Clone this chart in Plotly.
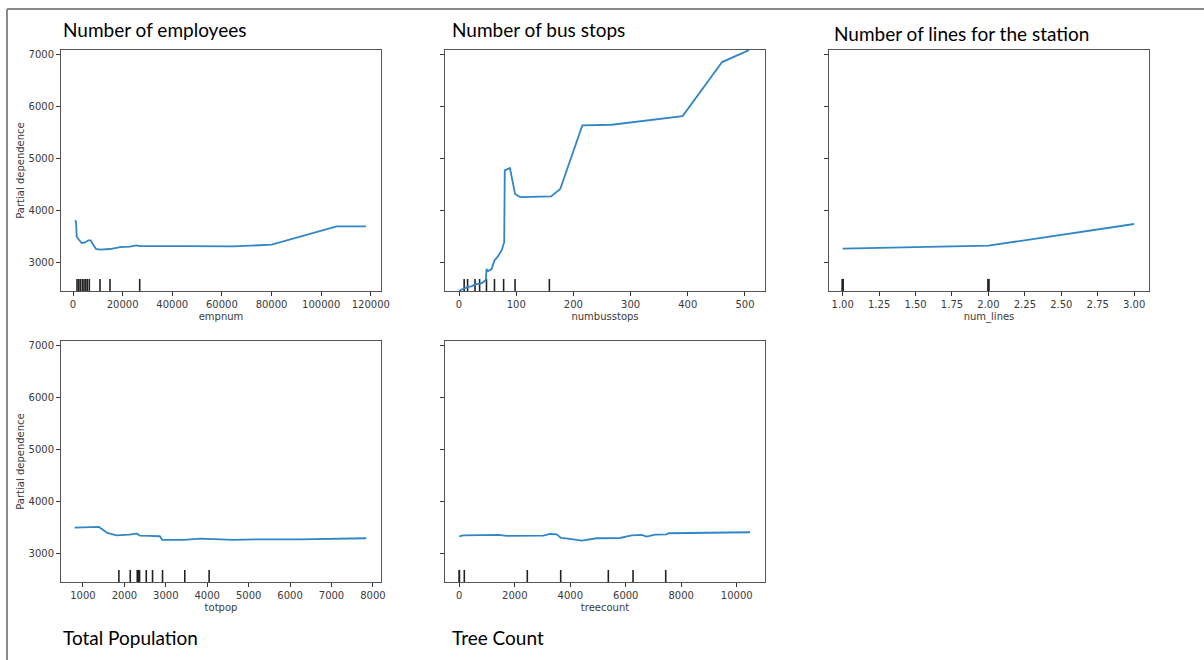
import plotly.graph_objects as go

W, H = 1204, 660

# ---------------- data ----------------
emp_x = [806, 1209, 1490, 2135, 3505, 4835, 6164, 7131, 8179, 9267, 10878, 14907,
         18936, 22965, 25383, 26994, 45000, 64586, 80057, 106244, 118050]
emp_y = [3813, 3790, 3506, 3455, 3379, 3390, 3430, 3430, 3346, 3263, 3250, 3263,
         3300, 3308, 3333, 3320, 3318, 3313, 3346, 3698, 3698]
emp_rug = [1612, 2297, 2941, 3747, 4432, 5117, 5762, 6567, 10878, 14907, 26873]

bus_x = [0, 7.6, 15, 22, 28, 37, 42, 47, 48, 51, 57, 62, 68, 75, 79, 80, 89, 98,
         107, 161, 177, 215.6, 267, 391, 460, 507]
bus_y = [2460, 2494, 2533, 2545, 2583, 2596, 2621, 2673, 2878, 2840, 2878, 3044,
         3121, 3250, 3398, 4775, 4821, 4321, 4263, 4275, 4417, 5640, 5654, 5821,
         6860, 7090]
bus_rug = [9, 15, 28, 36, 48, 62, 78, 98, 158]

lines_x = [1.0, 2.0, 3.0]
lines_y = [3269, 3327, 3744]
lines_rug = [1.0, 1.0, 2.0, 2.0]

pop_x = [800, 1065, 1265, 1386, 1588, 1812, 2109, 2246, 2311, 2374, 2511, 2591,
         2856, 2913, 3434, 3837, 4633, 5283, 6247, 7837]
pop_y = [3501, 3508, 3520, 3514, 3399, 3354, 3366, 3379, 3385, 3347, 3335, 3341,
         3335, 3264, 3264, 3289, 3264, 3277, 3277, 3297]
pop_rug = [1868, 2142, 2311, 2342, 2366, 2528, 2680, 2921, 3458, 4046]

tree_x = [0, 144, 1406, 1709, 3028, 3270, 3511, 3666, 3990, 4413, 4953, 5793,
          6215, 6575, 6756, 7055, 7477, 7534, 10480]
tree_y = [3335, 3354, 3360, 3341, 3347, 3379, 3373, 3302, 3283, 3250, 3297, 3302,
          3354, 3360, 3327, 3366, 3373, 3393, 3412]
tree_rug = [0, 0, 180, 2451, 3655, 5372, 6262, 7441]

features = ["empnum", "numbusstops", "num_lines", "totpop", "treecount"]
panel_titles = ["Number of employees", "Number of bus stops",
                "Number of lines for the station", "Total Population", "Tree Count"]
y_ticks = [3000, 4000, 5000, 6000, 7000]
y_label = "Partial dependence"

# ---------------- layout helpers ----------------
Y_RANGE = [2455, 7092]
x_ranges = [[-4835, 124100], [-24.5, 535], [0.906, 3.102], [470, 8195], [-516, 11020]]
x_ticks = [[0, 20000, 40000, 60000, 80000, 100000, 120000],
           [0, 100, 200, 300, 400, 500],
           [1.0, 1.25, 1.5, 1.75, 2.0, 2.25, 2.5, 2.75, 3.0],
           [1000, 2000, 3000, 4000, 5000, 6000, 7000, 8000],
           [0, 2000, 4000, 6000, 8000, 10000]]
x_fmt = ["d", "d", ".2f", "d", "d"]

# pixel boxes (left, right, top, bottom)
boxes = [(61, 381, 50, 291), (445, 765, 50, 291), (829, 1149, 50, 291),
         (61, 381, 341, 582), (445, 765, 341, 582)]

series = [(emp_x, emp_y, emp_rug), (bus_x, bus_y, bus_rug), (lines_x, lines_y, lines_rug),
          (pop_x, pop_y, pop_rug), (tree_x, tree_y, tree_rug)]

LINE_COLOR = "#3186c6"
TICK_FONT = dict(family="DejaVu Sans", size=10, color="#3a3a3a")
SPINE = "#555555"

fig = go.Figure()
rug_h = (Y_RANGE[1] - Y_RANGE[0]) * 0.05

for i, (xs, ys, rug) in enumerate(series):
    n = i + 1
    xa = "x" if n == 1 else f"x{n}"
    ya = "y" if n == 1 else f"y{n}"
    # rug (deciles)
    rx, ry = [], []
    for d in rug:
        rx += [d, d, None]
        ry += [Y_RANGE[0], Y_RANGE[0] + rug_h, None]
    fig.add_trace(go.Scatter(x=rx, y=ry, mode="lines", xaxis=xa, yaxis=ya,
                             line=dict(color="#222222", width=1.6 if n != 3 else 2.2),
                             hoverinfo="skip", showlegend=False))
    fig.add_trace(go.Scatter(x=xs, y=ys, mode="lines", xaxis=xa, yaxis=ya,
                             line=dict(color=LINE_COLOR, width=1.8),
                             showlegend=False))

    l, r, t, b = boxes[i]
    xdom = [l / W, r / W]
    ydom = [1 - b / H, 1 - t / H]
    xkey = "xaxis" if n == 1 else f"xaxis{n}"
    ykey = "yaxis" if n == 1 else f"yaxis{n}"
    fig.layout[xkey] = dict(
        domain=xdom, anchor=ya, range=x_ranges[i], tickvals=x_ticks[i],
        tickformat=x_fmt[i], ticks="outside", ticklen=4, tickwidth=1,
        tickcolor="#333333", tickfont=TICK_FONT, showline=True, mirror=True,
        linecolor=SPINE, linewidth=1, showgrid=False, zeroline=False,
        automargin=False,
        title=dict(text=features[i], font=TICK_FONT, standoff=3))
    left_col = n in (1, 4)
    fig.layout[ykey] = dict(
        domain=ydom, anchor=xa, range=Y_RANGE, tickvals=y_ticks,
        ticks="outside", ticklen=4, tickwidth=1, tickcolor="#333333",
        tickfont=TICK_FONT, showticklabels=left_col, showline=True, mirror=True,
        linecolor=SPINE, linewidth=1, showgrid=False, zeroline=False,
        automargin=False,
        title=dict(text=y_label if left_col else "", font=TICK_FONT, standoff=2))

# panel titles
title_pos = [(61, 30), (450, 30), (832, 33), (61, 637), (450, 637)]
for txt, (px, py) in zip(panel_titles, title_pos):
    fig.add_annotation(text=txt, xref="paper", yref="paper", x=px / W, y=1 - py / H,
                       xanchor="left", yanchor="middle", showarrow=False,
                       font=dict(family="Lato", size=19, color="#000000"))

# outer frame (top and left edges)
fig.add_shape(type="line", xref="paper", yref="paper", x0=7 / W, x1=1.0,
              y0=1 - 9 / H, y1=1 - 9 / H, line=dict(color="#8a8a8a", width=2))
fig.add_shape(type="line", xref="paper", yref="paper", x0=7 / W, x1=7 / W,
              y0=0, y1=1 - 9 / H, line=dict(color="#8a8a8a", width=2))

fig.update_layout(width=W, height=H, margin=dict(l=0, r=0, t=0, b=0, autoexpand=False),
                  paper_bgcolor="white", plot_bgcolor="white", showlegend=False)

fig.write_html("out.html", config={"displayModeBar": False},
               post_script="document.body.style.margin='0';document.body.style.overflow='hidden';")
